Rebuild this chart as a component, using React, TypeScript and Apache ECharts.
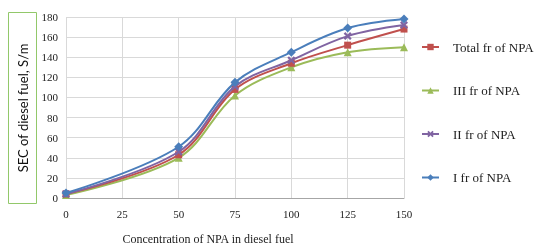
import React, { useEffect, useRef } from "react";
import * as echarts from "echarts";

const xValues = [0, 50, 75, 100, 125, 150];
const totalFr = [4, 43, 108, 134, 152, 168];
const iiiFr = [3, 40, 102, 130, 145, 150];
const iiFr = [4, 46, 111, 137, 161, 172];
const iFr = [5, 51, 115, 145, 169, 178];
const seriesNames = ["Total fr of NPA", "III fr of NPA", "II fr of NPA", "I fr of NPA"];

const crossPath =
  "path://M2,0L5,3L8,0L10,2L7,5L10,8L8,10L5,7L2,10L0,8L3,5L0,2Z";

const SERIF = "'Liberation Serif', 'Times New Roman', serif";
const SANS = "Lato, 'Liberation Sans', Arial, sans-serif";

export default function App() {
  const ref = useRef<HTMLDivElement>(null);
  useEffect(() => {
    if (!ref.current) return;
    const chart = echarts.init(ref.current, null, { renderer: "svg" });
    const mk = (name: string, data: number[], color: string, symbol: string, size: number, z: number) => ({
      name,
      type: "line",
      smooth: 0.35,
      data: xValues.map((x, i) => [x, data[i]]),
      symbol,
      symbolSize: size,
      z,
      lineStyle: { color, width: 2 },
      itemStyle: { color },
    });
    chart.setOption({
      animation: false,
      grid: { left: 66, right: 130, top: 17, bottom: 49 },
      xAxis: {
        type: "value",
        min: 0,
        max: 150,
        interval: 25,
        axisLine: { show: true, lineStyle: { color: "#a6a6a6" } },
        axisTick: { show: false },
        axisLabel: { fontFamily: SERIF, fontSize: 11, color: "#222", margin: 10 },
        splitLine: { show: true, lineStyle: { color: "#d9d9d9", width: 1 } },
      },
      yAxis: {
        type: "value",
        min: 0,
        max: 180,
        interval: 20,
        axisLine: { show: false },
        axisTick: { show: false },
        axisLabel: { fontFamily: SERIF, fontSize: 11, color: "#222", margin: 8 },
        splitLine: { show: true, lineStyle: { color: "#d9d9d9", width: 1 } },
      },
      legend: {
        orient: "vertical",
        left: 416,
        top: 35,
        itemWidth: 17,
        itemHeight: 8,
        itemGap: 29.5,
        data: seriesNames,
        textStyle: {
          fontFamily: SERIF,
          fontSize: 13,
          color: "#222",
          padding: [0, 0, 0, 9],
          lineHeight: 14,
        },
      },
      graphic: [
        {
          type: "rect",
          shape: { x: 8.5, y: 12.5, width: 28, height: 191 },
          style: { fill: "#fff", stroke: "#92c86a", lineWidth: 1 },
        },
        {
          type: "text",
          x: 23,
          y: 108,
          rotation: Math.PI / 2,
          style: {
            text: "SEC of diesel fuel, S/m",
            fontFamily: SANS,
            fontSize: 13,
            fill: "#111",
            align: "center",
            verticalAlign: "middle",
          },
        },
        {
          type: "text",
          x: 208,
          y: 239,
          style: {
            text: "Concentration of NPA in diesel fuel",
            fontFamily: SERIF,
            fontSize: 12,
            fill: "#222",
            align: "center",
            verticalAlign: "middle",
          },
        },
      ],
      series: [
        mk(seriesNames[0], totalFr, "#c0504d", "rect", 7, 3),
        mk(seriesNames[1], iiiFr, "#9bbb59", "triangle", 8, 2),
        mk(seriesNames[2], iiFr, "#8064a2", crossPath, 8, 4),
        mk(seriesNames[3], iFr, "#4a7ebb", "diamond", 9, 5),
      ],
    });
    return () => chart.dispose();
  }, []);
  return (
    <div
      ref={ref}
      style={{ position: "fixed", left: 0, top: 0, width: 534, height: 247 }}
    />
  );
}
